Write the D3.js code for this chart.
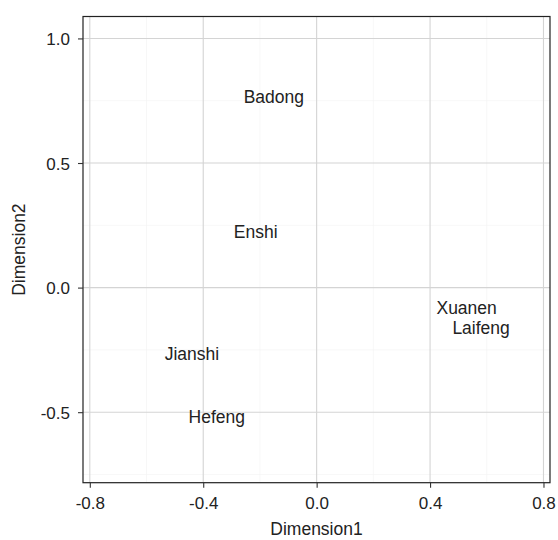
<!DOCTYPE html>
<html>
<head>
<meta charset="utf-8">
<script src="https://cdn.jsdelivr.net/npm/d3@7"></script>
<style>
  body { margin: 0; background: #fff; }
  text { font-family: "Liberation Sans", Arial, sans-serif; }
</style>
</head>
<body>
<div id="chart"></div>
<script>
// 各地点の座標
const places = ["Badong", "Enshi", "Xuanen", "Laifeng", "Jianshi", "Hefeng"];
const dim1 = [-0.151, -0.215, 0.529, 0.58, -0.44, -0.352];
const dim2 = [0.765, 0.223, -0.082, -0.159, -0.264, -0.52];

const xTicks = [-0.8, -0.4, 0.0, 0.4, 0.8];
const xMinor = [-0.6, -0.2, 0.2, 0.6];
const yTicks = [-0.5, 0.0, 0.5, 1.0];
const yMinor = [-0.75, -0.25, 0.25, 0.75];

const W = 558, H = 540;
const margin = { top: 16.5, right: 8, bottom: 57.3, left: 83 };
const width = W - margin.left - margin.right;
const height = H - margin.top - margin.bottom;

const xScale = d3.scaleLinear().domain([-0.824, 0.823]).range([0, width]);
const yScale = d3.scaleLinear().domain([-0.783, 1.088]).range([height, 0]);

// マイナス記号はハイフンで表示
const fmt = d => d3.format(".1f")(d).replace("−", "-");

const svg = d3.select("#chart").append("svg")
    .attr("width", W)
    .attr("height", H);

const g = svg.append("g")
    .attr("transform", `translate(${margin.left},${margin.top})`);

// グリッド（細）
g.selectAll(".xminor").data(xMinor).enter().append("line")
    .attr("x1", d => xScale(d)).attr("x2", d => xScale(d))
    .attr("y1", 0).attr("y2", height)
    .attr("stroke", "#f1f1f1").attr("stroke-width", 0.6);
g.selectAll(".yminor").data(yMinor).enter().append("line")
    .attr("x1", 0).attr("x2", width)
    .attr("y1", d => yScale(d)).attr("y2", d => yScale(d))
    .attr("stroke", "#f1f1f1").attr("stroke-width", 0.6);

// グリッド（太）
g.selectAll(".xmajor").data(xTicks).enter().append("line")
    .attr("x1", d => xScale(d)).attr("x2", d => xScale(d))
    .attr("y1", 0).attr("y2", height)
    .attr("stroke", "#d4d4d4").attr("stroke-width", 1.1);
g.selectAll(".ymajor").data(yTicks).enter().append("line")
    .attr("x1", 0).attr("x2", width)
    .attr("y1", d => yScale(d)).attr("y2", d => yScale(d))
    .attr("stroke", "#d4d4d4").attr("stroke-width", 1.1);

// 枠
g.append("rect")
    .attr("width", width).attr("height", height)
    .attr("fill", "none").attr("stroke", "#222").attr("stroke-width", 1.2);

// 軸
const xAxis = g.append("g")
    .attr("transform", `translate(0,${height})`)
    .call(d3.axisBottom(xScale).tickValues(xTicks).tickSize(5).tickSizeOuter(0)
        .tickFormat(fmt));
const yAxis = g.append("g")
    .call(d3.axisLeft(yScale).tickValues(yTicks).tickSize(5).tickSizeOuter(0)
        .tickFormat(fmt));

[xAxis, yAxis].forEach(a => {
    a.select(".domain").remove();
    a.selectAll(".tick line").attr("stroke", "#333").attr("stroke-width", 1.1);
    a.selectAll(".tick text")
        .attr("fill", "#222")
        .attr("font-size", "17px")
        .attr("font-family", "Liberation Sans, Arial, sans-serif");
});
xAxis.selectAll(".tick text").attr("y", 26).attr("dy", 0);
yAxis.selectAll(".tick text").attr("x", -13).attr("dy", "0.36em");

// ラベル
g.selectAll(".place").data(places).enter().append("text")
    .attr("x", (d, i) => xScale(dim1[i]))
    .attr("y", (d, i) => yScale(dim2[i]))
    .attr("text-anchor", "middle")
    .attr("dy", "0.36em")
    .attr("font-size", "17.5px")
    .attr("fill", "#222")
    .text(d => d);

// 軸タイトル
svg.append("text")
    .attr("x", margin.left + width / 2)
    .attr("y", 535)
    .attr("text-anchor", "middle")
    .attr("font-size", "17.5px")
    .attr("fill", "#222")
    .text("Dimension1");

svg.append("text")
    .attr("transform", `translate(25,${margin.top + height / 2}) rotate(-90)`)
    .attr("text-anchor", "middle")
    .attr("font-size", "17.5px")
    .attr("fill", "#222")
    .text("Dimension2");
</script>
</body>
</html>
